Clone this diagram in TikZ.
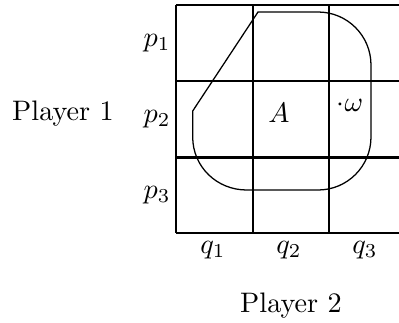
\documentclass[tikz,border=0pt]{standalone}
\begin{document}
\begin{tikzpicture}[x=0.3546pt,y=-0.3546pt,
  gridline/.style={line width=0.75pt},
  region/.style={line width=0.45pt},
  lbl/.style={inner sep=0pt}]
\useasboundingbox (0,0) rectangle (399,323);
\clip (0,0) rectangle (399,323);
% grid
\foreach \x in {176,252.7,329,405.5} \draw[gridline] (\x,5) -- (\x,233);
\foreach \y in {5,81,157.5,233} \draw[gridline] (176,\y) -- (405.5,\y);
% region A
\draw[region] (192.7,111) -- (258,12) -- (318,12)
  .. controls (347.3,12) and (371,35.7) .. (371,65)
  -- (371,137)
  .. controls (371,166.3) and (347.3,190) .. (318,190)
  -- (246.7,190)
  .. controls (216.9,190) and (192.7,166.8) .. (192.7,137)
  -- cycle;
% labels
\node[lbl] (A) at (279,113) {$A$};
\node[lbl] (w) at (350,105) {$\cdot\omega$};
\node[lbl] (p1) at (157,43) {$p_1$};
\node[lbl] (p2) at (157,119) {$p_2$};
\node[lbl] (p3) at (157,195) {$p_3$};
\node[lbl] (q1) at (213,250) {$q_1$};
\node[lbl] (q2) at (289,250) {$q_2$};
\node[lbl] (q3) at (365,250) {$q_3$};
\node[lbl] (P1) at (63,114) {Player 1};
\node[lbl] (P2) at (291,306) {Player 2};
\end{tikzpicture}
\end{document}
